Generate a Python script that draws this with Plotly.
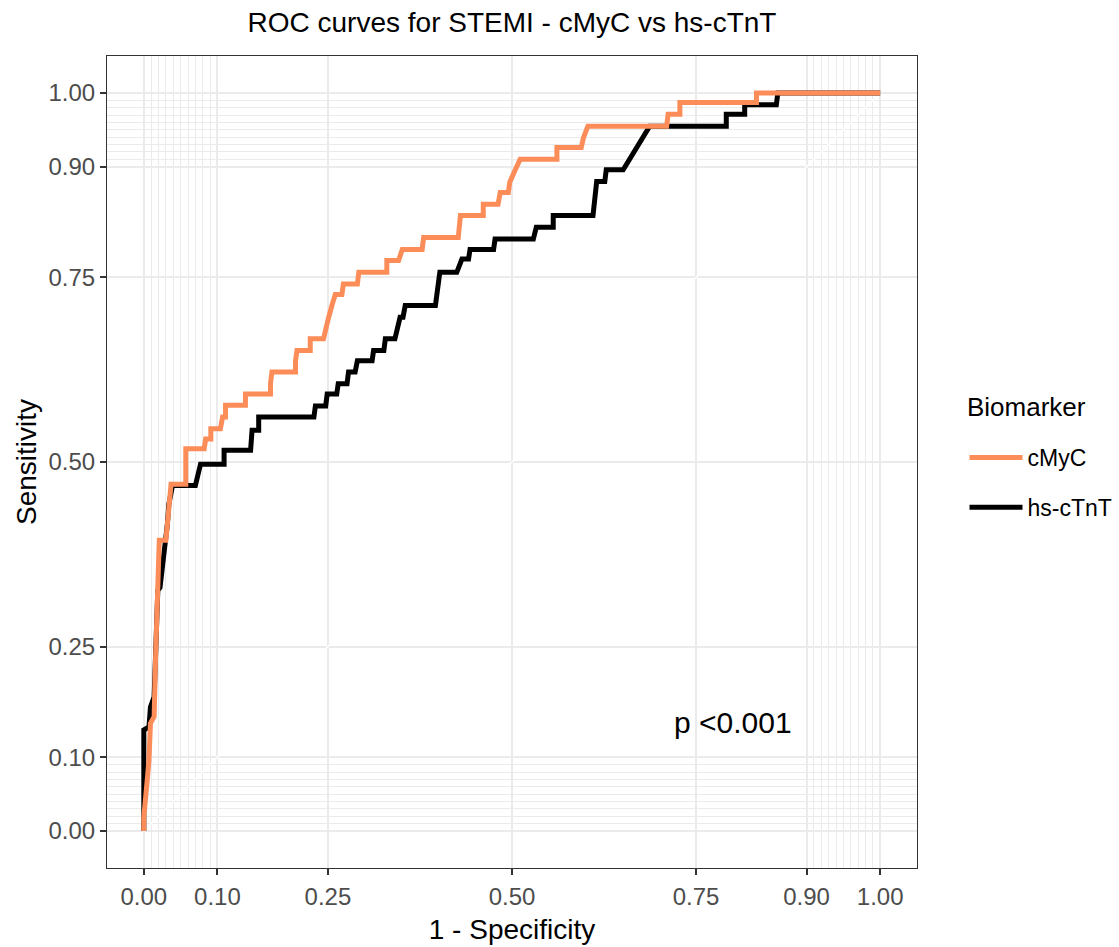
import plotly.graph_objects as go

# ---- data ----
cmyc_fpr = [0, 0.000, 0.005, 0.007, 0.009, 0.014, 0.016, 0.019, 0.021, 0.030,
            0.034, 0.037, 0.057, 0.057, 0.082, 0.084, 0.091, 0.091, 0.104, 0.107,
            0.111, 0.111, 0.138, 0.138, 0.172, 0.172, 0.174, 0.206, 0.206, 0.208,
            0.226, 0.226, 0.244, 0.247, 0.251, 0.256, 0.260, 0.269, 0.271, 0.290,
            0.292, 0.330, 0.330, 0.346, 0.351, 0.378, 0.380, 0.427, 0.430, 0.461,
            0.461, 0.481, 0.484, 0.495, 0.497, 0.504, 0.511, 0.561, 0.561, 0.594,
            0.597, 0.603, 0.710, 0.712, 0.728, 0.728, 0.832, 0.832, 1.0]
cmyc_tpr = [0, 0.019, 0.073, 0.096, 0.146, 0.155, 0.236, 0.322, 0.394, 0.394,
            0.439, 0.470, 0.470, 0.518, 0.518, 0.531, 0.531, 0.545, 0.545, 0.561,
            0.561, 0.577, 0.577, 0.592, 0.592, 0.606, 0.622, 0.622, 0.637, 0.651,
            0.651, 0.667, 0.667, 0.682, 0.696, 0.714, 0.727, 0.727, 0.741, 0.741,
            0.757, 0.757, 0.773, 0.773, 0.788, 0.788, 0.804, 0.804, 0.834, 0.834,
            0.849, 0.849, 0.865, 0.865, 0.879, 0.895, 0.910, 0.910, 0.926, 0.926,
            0.939, 0.955, 0.955, 0.971, 0.971, 0.987, 0.987, 1.0, 1.0]

tnt_fpr = [0, 0, 0.000, 0.007, 0.009, 0.014, 0.016, 0.019, 0.022, 0.030,
           0.032, 0.034, 0.039, 0.070, 0.073, 0.077, 0.109, 0.109, 0.145, 0.147,
           0.156, 0.156, 0.231, 0.233, 0.247, 0.249, 0.262, 0.264, 0.276, 0.278,
           0.287, 0.290, 0.310, 0.312, 0.326, 0.328, 0.341, 0.344, 0.348, 0.352,
           0.355, 0.396, 0.398, 0.402, 0.425, 0.432, 0.441, 0.443, 0.475, 0.477,
           0.529, 0.533, 0.556, 0.556, 0.610, 0.612, 0.615, 0.626, 0.628, 0.651,
           0.687, 0.791, 0.791, 0.816, 0.816, 0.859, 0.861, 1.0]
tnt_tpr = [0, 0.123, 0.137, 0.141, 0.168, 0.182, 0.258, 0.326, 0.330, 0.389,
           0.416, 0.443, 0.468, 0.468, 0.484, 0.497, 0.497, 0.516, 0.516, 0.543,
           0.543, 0.561, 0.561, 0.576, 0.576, 0.592, 0.592, 0.606, 0.606, 0.622,
           0.622, 0.637, 0.637, 0.651, 0.651, 0.667, 0.667, 0.682, 0.696, 0.696,
           0.712, 0.712, 0.728, 0.757, 0.757, 0.775, 0.775, 0.788, 0.788, 0.802,
           0.802, 0.818, 0.818, 0.834, 0.834, 0.849, 0.880, 0.880, 0.896, 0.896,
           0.955, 0.955, 0.971, 0.971, 0.984, 0.984, 1.0, 1.0]

major_breaks = [0, 0.1, 0.25, 0.5, 0.75, 0.9, 1.0]
major_labels = ["0.00", "0.10", "0.25", "0.50", "0.75", "0.90", "1.00"]
minor_breaks = [0.01, 0.02, 0.03, 0.04, 0.05, 0.06, 0.07, 0.08, 0.09,
                0.91, 0.92, 0.93, 0.94, 0.95, 0.96, 0.97, 0.98, 0.99]
diag = [0, 1]

series_names = ["cMyC", "hs-cTnT"]
series_colors = ["#FC8D59", "#000000"]

FONT = "Liberation Sans, Arial, Helvetica, sans-serif"

fig = go.Figure()

# reference diagonal (white)
fig.add_trace(go.Scatter(x=diag, y=diag, mode="lines",
                         line=dict(color="white", width=1.5),
                         showlegend=False, hoverinfo="skip"))

fig.add_trace(go.Scatter(x=tnt_fpr, y=tnt_tpr, mode="lines", name=series_names[1],
                         line=dict(color=series_colors[1], width=5),
                         legendgroup="b", legendrank=2))
fig.add_trace(go.Scatter(x=cmyc_fpr, y=cmyc_tpr, mode="lines", name=series_names[0],
                         line=dict(color=series_colors[0], width=5),
                         legendgroup="a", legendrank=1))

axis_common = dict(
    range=[-0.05, 1.05], automargin=False,
    tickmode="array", tickvals=major_breaks, ticktext=major_labels,
    ticks="outside", ticklen=6, tickwidth=1.5, tickcolor="#333333",
    showline=True, mirror=True, linecolor="#333333", linewidth=1.2,
    showgrid=True, gridcolor="#EBEBEB", gridwidth=2,
    zeroline=False,
    minor=dict(tickvals=minor_breaks, showgrid=True, gridcolor="#EBEBEB",
               gridwidth=1.2, ticks=""),
    tickfont=dict(family=FONT, size=24, color="#4D4D4D"),
    fixedrange=True,
)

fig.update_layout(
    width=1119, height=947,
    margin=dict(l=107, r=202, t=56, b=79, autoexpand=False),
    paper_bgcolor="white", plot_bgcolor="white",
    font=dict(family=FONT, color="black"),
    title=dict(text="ROC curves for STEMI - cMyC vs hs-cTnT",
               x=0.5, xref="paper", xanchor="center",
               y=1 - 22 / 947, yref="container", yanchor="middle",
               font=dict(family=FONT, size=28, color="black")),
    xaxis=dict(axis_common, ticklabelstandoff=1,
               title=dict(text="1 - Specificity",
                          font=dict(family=FONT, size=28, color="black"),
                          standoff=10)),
    yaxis=dict(axis_common,
               title=dict(text="Sensitivity",
                          font=dict(family=FONT, size=28, color="black"),
                          standoff=3)),
    legend=dict(
        font=dict(family=FONT, size=23, color="black"),
        xref="container", yref="container",
        x=964.5 / 1119, xanchor="left", y=1 - 436 / 947, yanchor="top",
        bgcolor="rgba(0,0,0,0)", borderwidth=0,
        traceorder="grouped", tracegroupgap=17, itemwidth=53,
    ),
    annotations=[
        dict(text="p <0.001", x=0.80, y=0.147, xref="x", yref="y",
             showarrow=False, font=dict(family=FONT, size=30, color="black")),
        dict(text="Biomarker", x=(965 - 107) / 810, y=(868 - 407) / 812,
             xref="paper", yref="paper", xanchor="left", yanchor="middle",
             showarrow=False, font=dict(family=FONT, size=26, color="black")),
    ],
    showlegend=True,
)

fig.write_html("out.html")
